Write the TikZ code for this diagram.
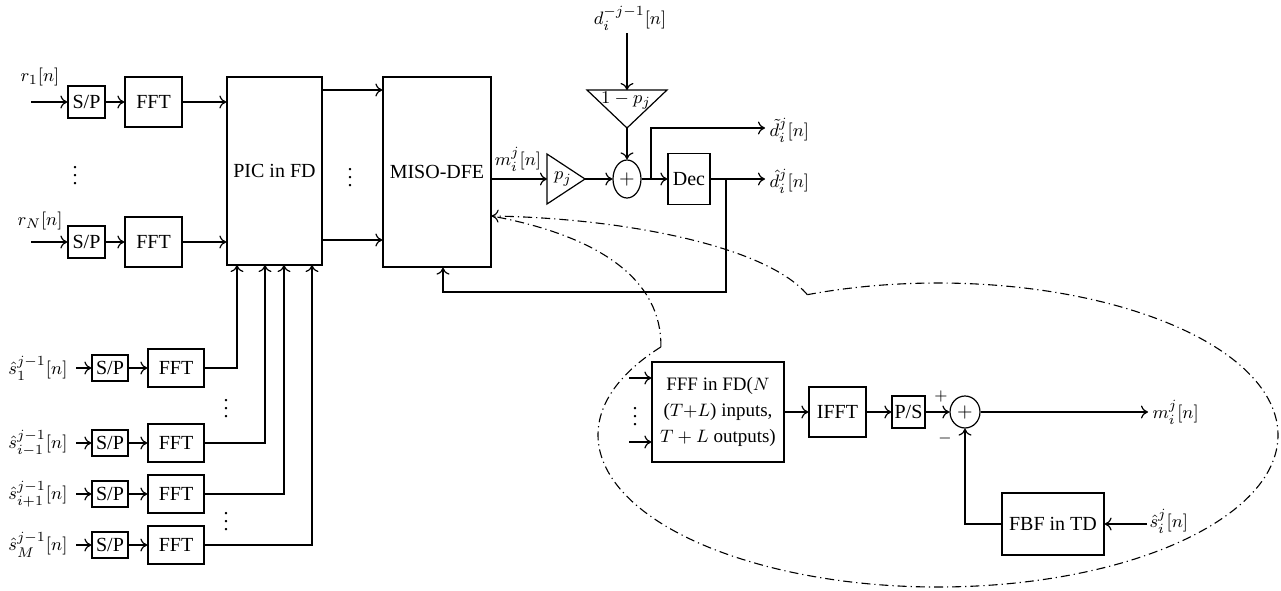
\documentclass[tikz,border=0pt]{standalone}
\usepackage{amsmath}
\usepackage{fontspec}
\setmainfont{Liberation Serif}
\usetikzlibrary{calc,shapes.geometric,arrows.meta}
\begin{document}
\begin{tikzpicture}[x=0.5pt,y=-0.5pt,
  every node/.style={font=\fontsize{10}{12}\selectfont},
  line width=0.6pt,
  arr/.style={-{To[length=3.5pt,width=6.5pt]}},
  bx/.style={draw, inner sep=0pt},
  sp/.style={bx, minimum width=18.5pt, minimum height=16pt},
  fft/.style={bx, minimum width=28.5pt, minimum height=25pt},
  spb/.style={bx, minimum width=18pt, minimum height=13pt},
  fftb/.style={bx, minimum width=28pt, minimum height=19pt},
  sumn/.style={draw, ellipse, inner sep=0pt},
  dts/.style={inner sep=0pt},
  dd/.style={line width=0.55pt, dash pattern=on 4.5pt off 2pt on 0.6pt off 2pt},
  lab/.style={inner sep=1pt, font=\fontsize{9.5}{11}\selectfont}]
\useasboundingbox (0,0) rectangle (1281,590);

% ---------- receive branches ----------
\node[sp] (sp1) at (86.5,102) {S/P};
\node[fft] (fft1) at (153.5,102) {FFT};
\node[sp] (spN) at (86.5,242) {S/P};
\node[fft] (fftN) at (153.5,242) {FFT};
\node[bx, minimum width=47.5pt, minimum height=94pt] (pic) at (274.5,171) {PIC in FD};
\node[bx, minimum width=54pt, minimum height=95pt] (miso) at (437,172) {MISO-DFE};

\coordinate (r1in) at (31,102);
\coordinate (rNin) at (31,242);
\node[lab] (r1l) at (40,77) {$r_1[n]$};
\node[lab] (rNl) at (40,221) {$r_N[n]$};
\draw[arr] (r1in) -- (sp1);
\draw[arr] (sp1) -- (fft1);
\draw[arr] (fft1) -- (pic.west |- fft1);
\draw[arr] (rNin) -- (spN);
\draw[arr] (spN) -- (fftN);
\draw[arr] (fftN) -- (pic.west |- fftN);
\node[dts] (dotsA) at (75,170) {$\vdots$};

\coordinate (ya) at (0,90);
\coordinate (yb) at (0,240);
\draw[arr] (pic.east |- ya) -- (miso.west |- ya);
\draw[arr] (pic.east |- yb) -- (miso.west |- yb);
\node[dts] (dotsB) at (350,172) {$\vdots$};

% ---------- combiner ----------
\coordinate (pjin) at (547,179);
\coordinate (pjout) at (585,179);
\draw (547,154) -- (pjout) -- (547,204) -- cycle;
\node[lab] (pj) at (563,179) {$p_j$};
\node[lab] (ml) at (518,159) {$m_i^j[n]$};
\draw[arr] (miso.east |- pjin) -- (pjin);

\node[sumn, minimum width=14pt, minimum height=19pt] (s1) at (627,179) {$+$};
\draw[arr] (pjout) -- (s1);

\coordinate (t2top) at (627,90);
\coordinate (t2tip) at (627,128);
\draw (587,90) -- (667,90) -- (t2tip) -- cycle;
\node[lab] (omp) at (626,101) {$1-p_j$};
\node[lab] (dlab) at (630,18) {$d_i^{-j-1}[n]$};
\coordinate (dtop) at (627,33);
\draw[arr] (dtop) -- (t2top);
\draw[arr] (t2tip) -- (s1);

\node[bx, minimum width=21pt, minimum height=25.5pt] (dec) at (689,179) {Dec};
\draw[arr] (s1) -- (dec);
\coordinate (br) at (651,179);
\coordinate (tout) at (765,128);
\draw[arr] (br) |- (tout);
\node[lab, anchor=west] (dtl) at (767,130) {$\tilde d_i^j[n]$};
\coordinate (hout) at (765,179);
\draw[arr] (dec) -- (hout);
\node[lab, anchor=west] (dhl) at (767,181) {$\hat d_i^j[n]$};

\coordinate (fb) at (726,179);
\coordinate (fbc) at (726,292);
\coordinate (fbm) at (443,292);
\draw[arr] (fb) -- (fbc) -- (fbm) -- (miso.south -| fbm);

% ---------- decision-feedback branches ----------
\foreach \nm/\yy/\txt in {a/368/{\hat s_1^{j-1}[n]}, b/443/{\hat s_{i-1}^{j-1}[n]}, c/494/{\hat s_{i+1}^{j-1}[n]}, d/545/{\hat s_M^{j-1}[n]}}{
  \node[lab, anchor=east] (l\nm) at (70,\yy) {$\txt$};
  \coordinate (i\nm) at (76,\yy);
  \node[spb] (spb\nm) at (110,\yy) {S/P};
  \node[fftb] (fftb\nm) at (176,\yy) {FFT};
  \draw[arr] (i\nm) -- (spb\nm);
  \draw[arr] (spb\nm) -- (fftb\nm);
}
\coordinate (va) at (237,265);
\coordinate (vb) at (265,265);
\coordinate (vc) at (284,265);
\coordinate (vd) at (312,265);
\draw[arr] (fftba.east) -| (va);
\draw[arr] (fftbb.east) -| (vb);
\draw[arr] (fftbc.east) -| (vc);
\draw[arr] (fftbd.east) -| (vd);
\node[dts] (dotsC) at (226,403) {$\vdots$};
\node[dts] (dotsD) at (226,516) {$\vdots$};

% ---------- zoomed MISO-DFE ----------
\node[bx, minimum width=66pt, minimum height=50pt, align=center, font=\fontsize{9.5}{13}\selectfont] (fff) at (718,412) {FFF in FD($N$\\($T{+}L$) inputs,\\$T+L$ outputs)};
\coordinate (fi1) at (629,378);
\coordinate (fi2) at (629,442);
\draw[arr] (fi1) -- (fi1 -| fff.west);
\draw[arr] (fi2) -- (fi2 -| fff.west);
\node[dts] (dotsE) at (635,411) {$\vdots$};
\node[bx, minimum width=28.5pt, minimum height=25pt] (ifft) at (837.5,412) {IFFT};
\node[bx, minimum width=16.5pt, minimum height=16pt] (ps) at (908.5,412) {P/S};
\node[sumn, minimum width=15pt, minimum height=16pt] (s2) at (965,412) {$+$};
\draw[arr] (fff) -- (ifft);
\draw[arr] (ifft) -- (ps);
\draw[arr] (ps) -- (s2);
\node[lab, font=\footnotesize] (plus) at (941,396) {$+$};
\node[lab, font=\footnotesize] (minus) at (945,438) {$-$};
\coordinate (mo) at (1148,412);
\draw[arr] (s2) -- (mo);
\node[lab, anchor=west] (mol) at (1150,412) {$m_i^j[n]$};
\node[bx, minimum width=51pt, minimum height=31pt] (fbf) at (1053,524) {FBF in TD};
\node[lab, anchor=west] (shl) at (1147,521) {$\hat s_i^j[n]$};
\draw[arr] (shl.west |- fbf) -- (fbf);
\draw[arr] (fbf.west) -| (s2.south);

% ---------- dash-dot callout ----------
\coordinate (ec) at (938,435);
\coordinate (K2) at ($(ec)+(144.6:170pt and 76pt)$);
\coordinate (K1) at ($(ec)+(112.6:170pt and 76pt)$);
\coordinate (yt) at (0,216);
\coordinate (tip) at (miso.east |- yt);
\draw[dd] (K2) arc[start angle=144.6, end angle=472.6, x radius=170pt, y radius=76pt];
\draw[dd, arr] (K1) .. controls (765,245) and (620,218) .. (tip);
\draw[dd] (K2) .. controls (662,280) and (600,236) .. (tip);
\end{tikzpicture}
\end{document}
